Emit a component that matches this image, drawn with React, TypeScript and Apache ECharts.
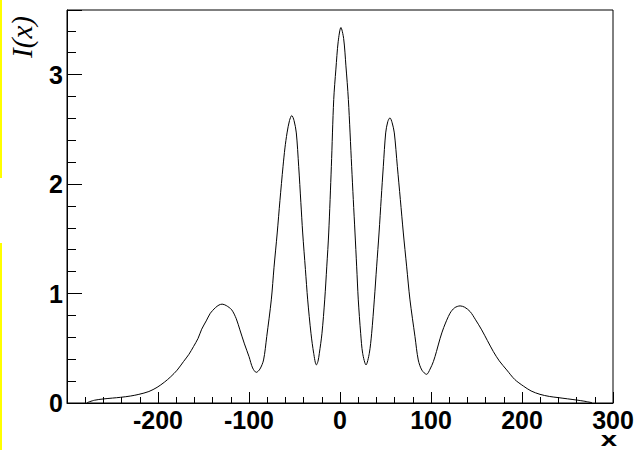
import React, { useEffect, useRef } from "react";
import * as echarts from "echarts";

// x positions and intensity readings of the curve I(x)
const xValues: number[] = [
  -278, -270, -260, -250, -241, -230, -221, -210, -201, -193, -186, -179, -172, -166, -161, -156,
  -152, -147, -142.5, -137, -133, -129.5, -125, -119, -114, -110, -105, -100, -96, -92, -88, -84,
  -80.5, -75.5, -72.5, -69, -66, -62.6, -60.5, -58.2, -55.5, -53, -50.5, -48, -45.4, -43, -41, -38,
  -35.5, -31.9, -28.9, -26, -24.2, -22.7, -19.8, -16.8, -14.5, -12.4, -9.5, -6.9, -4.5, -2, 1, 4,
  6.5, 9.2, 12.8, 14.6, 16.5, 18.3, 20.1, 22.7, 24.9, 28.6, 32.2, 34.8, 37.7, 40.3, 42.9, 45.3,
  47.6, 50.2, 52.5, 54.9, 57.3, 59.7, 63, 66.3, 69.6, 73.2, 76.9, 82.4, 86, 90, 95.2, 99, 102.6,
  106, 110, 114, 120.9, 126, 132, 137, 143, 149, 155.7, 162, 168.5, 175, 183.2, 192, 201.5, 210,
  219.8, 230, 240, 250, 260, 268, 277,
];

const intensity: number[] = [
  0.003, 0.025, 0.037, 0.045, 0.052, 0.064, 0.079, 0.105, 0.143, 0.19, 0.24, 0.3, 0.378, 0.445, 0.515, 0.59,
  0.674, 0.75, 0.82, 0.87, 0.895, 0.903, 0.89, 0.851, 0.77, 0.668, 0.54, 0.424, 0.32, 0.28, 0.31, 0.393,
  0.607, 0.942, 1.24, 1.553, 1.85, 2.162, 2.33, 2.467, 2.58, 2.626, 2.58, 2.467, 2.162, 1.83, 1.553, 1.22,
  0.942, 0.637, 0.454, 0.348, 0.38, 0.454, 0.637, 0.942, 1.25, 1.553, 2.162, 2.772, 3.05, 3.3, 3.43, 3.33,
  3.08, 2.772, 2.162, 1.86, 1.553, 1.25, 0.942, 0.637, 0.454, 0.348, 0.454, 0.637, 0.942, 1.25, 1.553, 1.87,
  2.162, 2.467, 2.57, 2.605, 2.56, 2.467, 2.162, 1.86, 1.553, 1.25, 0.942, 0.607, 0.393, 0.3, 0.262, 0.31, 0.378,
  0.47, 0.59, 0.69, 0.82, 0.87, 0.887, 0.875, 0.835, 0.76, 0.668, 0.57, 0.47, 0.385, 0.302, 0.215, 0.155, 0.11,
  0.079, 0.06, 0.049, 0.038, 0.027, 0.017, 0.003,
];

const xMin = -300;
const xMax = 300;
const xMajorStep = 100;
const yMin = 0;
const yMax = 3.59;
const yMajorStep = 1;
const yMinorStep = 0.2;

const xTitle = "x";
const yTitle = "I(x)";

export default function App() {
  const ref = useRef<HTMLDivElement>(null);

  useEffect(() => {
    if (!ref.current) return;
    const chart = echarts.init(ref.current, undefined, { renderer: "svg" });
    const labelFont = {
      fontFamily: "Liberation Sans, Arial, sans-serif",
      fontWeight: "bold" as const,
      fontSize: 25,
      color: "#000",
    };
    chart.setOption({
      animation: false,
      backgroundColor: "#fff",
      grid: {
        left: 67,
        right: 27,
        top: 10,
        bottom: 47,
        show: true,
        borderColor: "#000",
        borderWidth: 1,
        backgroundColor: "#fff",
      },
      xAxis: {
        type: "value",
        min: xMin,
        max: xMax,
        interval: xMajorStep,
        axisLine: { show: true, onZero: false, lineStyle: { color: "#000", width: 1 } },
        axisTick: { show: true, inside: true, length: 11, lineStyle: { color: "#000" } },
        minorTick: { show: true, splitNumber: 5, length: 6, lineStyle: { color: "#000" } },
        splitLine: { show: false },
        axisLabel: {
          ...labelFont,
          lineHeight: 20,
          margin: 7,
          formatter: (v: number) => (v === xMin ? "" : String(v)),
        },
      },
      yAxis: [
        {
          type: "value",
          min: yMin,
          max: yMax,
          interval: yMajorStep,
          position: "left",
          axisLine: { show: true, onZero: false, lineStyle: { color: "#000", width: 1 } },
          axisTick: { show: true, inside: true, length: 15, lineStyle: { color: "#000" } },
          splitLine: { show: false },
          axisLabel: {
            ...labelFont,
            margin: 4,
            formatter: (v: number) => (Number.isInteger(v) ? String(v) : ""),
          },
        },
        {
          type: "value",
          min: yMin,
          max: yMax,
          interval: yMinorStep,
          position: "left",
          axisLine: { show: false, onZero: false },
          axisTick: { show: true, inside: true, length: 9, lineStyle: { color: "#000" } },
          splitLine: { show: false },
          axisLabel: { show: false },
        },
      ],
      graphic: [
        { type: "rect", shape: { x: 0, y: 0, width: 2, height: 178 }, style: { fill: "#ffff00" } },
        { type: "rect", shape: { x: 0, y: 243, width: 2, height: 207 }, style: { fill: "#ffff00" } },
        {
          type: "text",
          x: 22,
          y: 37,
          rotation: Math.PI / 2,
          style: {
            text: yTitle,
            fontFamily: "Liberation Serif, Times New Roman, serif",
            fontStyle: "italic",
            fontSize: 29,
            fill: "#000",
            align: "center",
            verticalAlign: "middle",
          },
        },
        {
          type: "text",
          x: 609,
          y: 439,
          scaleX: 1.4,
          style: {
            text: xTitle,
            fontFamily: "Liberation Sans, Arial, sans-serif",
            fontWeight: "bold",
            fontSize: 21,
            lineHeight: 16,
            fill: "#000",
            align: "center",
            verticalAlign: "middle",
          },
        },
      ],
      series: [
        {
          type: "line",
          xAxisIndex: 0,
          yAxisIndex: 0,
          data: xValues.map((x, i) => [x, intensity[i]]),
          showSymbol: false,
          smooth: 0.3,
          lineStyle: { color: "#000", width: 1 },
          silent: true,
        },
      ],
    });
    return () => chart.dispose();
  }, []);

  return (
    <div
      ref={ref}
      style={{ position: "fixed", left: 0, top: 0, width: 640, height: 450, background: "#fff" }}
    />
  );
}
